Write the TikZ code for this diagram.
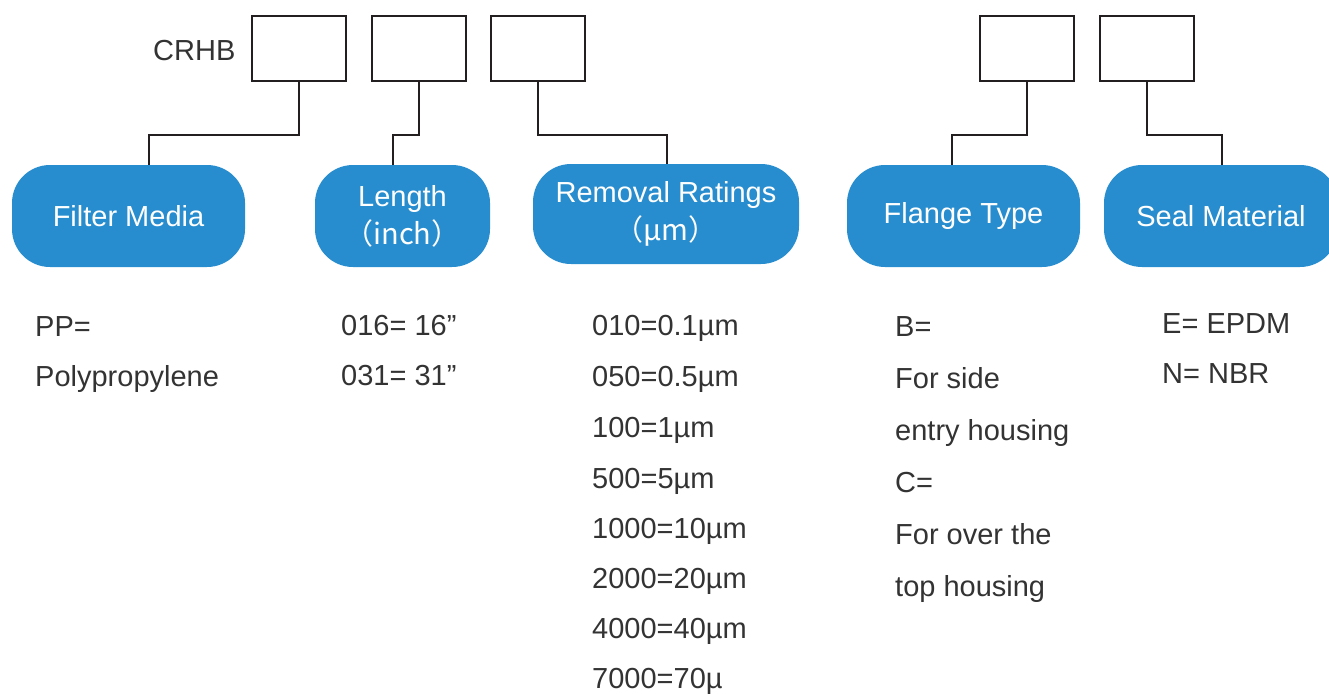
\documentclass[tikz,border=0pt]{standalone}
\usepackage{fontspec}
\setmainfont{Liberation Sans}
\newfontfamily\cjk{Noto Sans CJK SC}
\definecolor{pillblue}{HTML}{278DCE}
\definecolor{ink}{HTML}{231F20}
\definecolor{txt}{HTML}{333333}
\begin{document}
\begin{tikzpicture}[x=1pt,y=-1pt,
  codebox/.style={draw=ink,line width=2.4pt,minimum width=94pt,minimum height=65pt,inner sep=0pt},
  pill/.style={fill=pillblue,rounded corners=38pt,inner sep=0pt,text=white,font=\fontsize{29}{37}\selectfont,align=center},
  link/.style={draw=ink,line width=2pt},
  lbl/.style={anchor=base west,inner sep=0pt,text=txt,font=\fontsize{29}{35}\selectfont}]
\useasboundingbox (0,0) rectangle (1329,693);

% code boxes
\node[lbl] (crhb) at (153,60) {CRHB};
\node[codebox] (b1) at (299,48.5) {};
\node[codebox] (b2) at (419,48.5) {};
\node[codebox] (b3) at (538,48.5) {};
\node[codebox] (b4) at (1027,48.5) {};
\node[codebox] (b5) at (1147,48.5) {};

% category pills
\node[pill,minimum width=233pt,minimum height=102pt] (p1) at (128.5,216) {Filter Media};
\node[pill,minimum width=175pt,minimum height=102pt] (p2) at (402.5,216) {Length\\[1pt]\cjk{（}inch\cjk{）}};
\node[pill,minimum width=266pt,minimum height=100pt] (p3) at (666,214) {Removal Ratings\\[1pt]\cjk{（}µm\cjk{）}};
\node[pill,minimum width=233pt,minimum height=102pt] (p4) at (963.5,216) {Flange Type\strut};
\node[pill,minimum width=234pt,minimum height=102pt] (p5) at (1221,216) {Seal Material};

% connectors
\draw[link] (b1.south) -- ++(0,53) -| ([xshift=20.5pt]p1.north);
\draw[link] (b2.south) -- ++(0,53) -| ([xshift=-9.5pt]p2.north);
\draw[link] (b3.south) -- ++(0,53) -| ([xshift=0.5pt]p3.north);
\draw[link] (b4.south) -- ++(0,53) -| ([xshift=-12pt]p4.north);
\draw[link] (b5.south) -- ++(0,53) -| ([xshift=1pt]p5.north);

% Filter media options
\node[lbl] (fm1) at (35,336) {PP=};
\node[lbl] (fm2) at (35,386) {Polypropylene};

% Length options
\node[lbl] (ln1) at (341,335) {016= 16”};
\node[lbl] (ln2) at (341,385) {031= 31”};

% Removal ratings
\node[lbl] (rr1) at (592,335) {010=0.1µm};
\node[lbl] (rr2) at (592,386) {050=0.5µm};
\node[lbl] (rr3) at (592,437) {100=1µm};
\node[lbl] (rr4) at (592,488) {500=5µm};
\node[lbl] (rr5) at (592,538) {1000=10µm};
\node[lbl] (rr6) at (592,588) {2000=20µm};
\node[lbl] (rr7) at (592,638) {4000=40µm};
\node[lbl] (rr8) at (592,688) {7000=70µ};

% Flange type
\node[lbl] (ft1) at (895,336) {B=};
\node[lbl] (ft2) at (895,388) {For side};
\node[lbl] (ft3) at (895,440) {entry housing};
\node[lbl] (ft4) at (895,492) {C=};
\node[lbl] (ft5) at (895,544) {For over the};
\node[lbl] (ft6) at (895,596) {top housing};

% Seal material
\node[lbl] (sm1) at (1162,333) {E= EPDM};
\node[lbl] (sm2) at (1162,383) {N= NBR};
\end{tikzpicture}
\end{document}
